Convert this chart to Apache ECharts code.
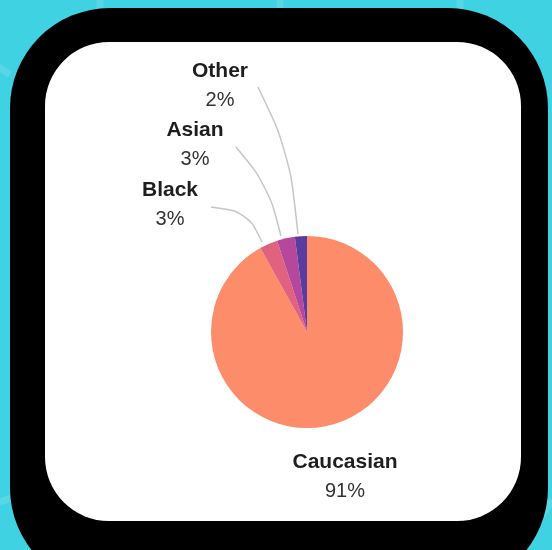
<!DOCTYPE html>
<html>
<head>
<meta charset="utf-8">
<script src="https://cdn.jsdelivr.net/npm/echarts@6/dist/echarts.min.js"></script>
<style>
  html, body { margin: 0; padding: 0; background: #3fd2e2; }
  #chart { width: 552px; height: 550px; }
</style>
</head>
<body>
<div id="chart"></div>
<script>
// slices, clockwise from 12 o'clock
const groups = ['Caucasian', 'Black', 'Asian', 'Other'];
const shares = [91, 3, 3, 2];
const colors = ['#fd8c6b', '#e0627f', '#b5489c', '#5b3b9d'];

// where each label sits, and the bent leader line to it
const labelSpots = [
  { x: 345, y: 477, line: null },
  { x: 170, y: 205, line: [[262, 242], [247, 212], [211, 207]] },
  { x: 195, y: 145, line: [[281, 236], [268, 186], [236, 147]] },
  { x: 220, y: 86, line: [[298, 234], [289, 152], [258, 87]] }
];

const chart = echarts.init(document.getElementById('chart'), null, { renderer: 'canvas' });

// faint hexagon pattern on the backdrop
const hexLine = { stroke: 'rgba(255,255,255,0.13)', lineWidth: 7, fill: null };
const pattern = [
  [[100, -10], [100, 20]],
  [[280, -10], [280, 20]],
  [[460, -10], [460, 20]],
  [[-10, 60], [10, 75]],
  [[-10, 505], [12, 498], [40, 520]],
  [[552, 500], [520, 550]]
];

chart.setOption({
  backgroundColor: '#3fd2e2',
  graphic: [
    ...pattern.map(points => ({
      type: 'polyline',
      silent: true,
      shape: { points },
      style: hexLine
    })),
    {
      type: 'rect',
      silent: true,
      shape: { x: 10, y: 8, width: 538, height: 580, r: 100 },
      style: { fill: '#000' }
    },
    {
      type: 'rect',
      silent: true,
      shape: { x: 45, y: 42, width: 476, height: 479, r: 64 },
      style: { fill: '#fff' }
    }
  ],
  series: [
    {
      type: 'pie',
      center: [307, 332],
      radius: 96,
      startAngle: 90,
      clockwise: true,
      animation: false,
      silent: true,
      data: groups.map((name, i) => ({
        name,
        value: shares[i],
        itemStyle: { color: colors[i] },
        labelLine: { show: !!labelSpots[i].line }
      })),
      label: {
        show: true,
        position: 'outside',
        fontFamily: 'Liberation Sans',
        formatter: p => `{n|${p.name}}\n{v|${p.value}%}`,
        rich: {
          n: { fontSize: 21, fontWeight: 'bold', color: '#1e1e1e', lineHeight: 29, fontFamily: 'Liberation Sans' },
          v: { fontSize: 20, color: '#333', lineHeight: 29, fontFamily: 'Liberation Sans' }
        }
      },
      labelLine: {
        smooth: 0.35,
        lineStyle: { color: '#c6c6c6', width: 1.5 }
      },
      labelLayout: params => {
        const spot = labelSpots[params.dataIndex];
        const out = { x: spot.x, y: spot.y, align: 'center', verticalAlign: 'middle' };
        if (spot.line) out.labelLinePoints = spot.line;
        return out;
      }
    }
  ]
});
</script>
</body>
</html>
